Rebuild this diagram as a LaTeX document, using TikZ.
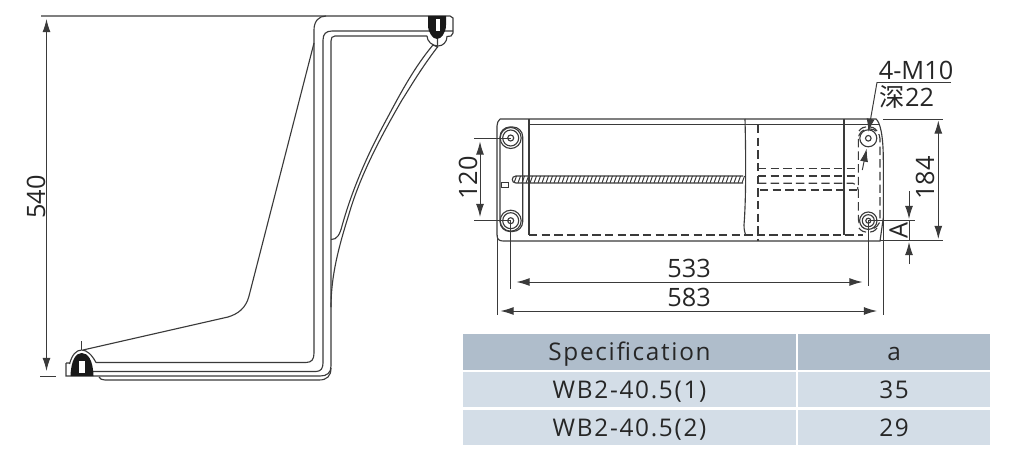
\documentclass[tikz,border=0pt]{standalone}
\usepackage{fontspec}
\setmainfont{Open Sans}
\newfontfamily\cjkfont{Noto Sans CJK SC}
\newfontfamily\tablefont[LetterSpace=7]{Open Sans}
\usetikzlibrary{arrows.meta}
\definecolor{inkline}{HTML}{3A3A3A}
\definecolor{headfill}{HTML}{AFBDCB}
\definecolor{rowfill}{HTML}{D3DDE7}
\tikzset{
  part/.style={draw=inkline,line width=0.8pt},
  hidden/.style={draw=inkline,line width=0.8pt,dash pattern=on 6pt off 3pt},
  dimline/.style={draw=inkline,line width=0.7pt},
  dimarrow/.style={dimline,{Latex[length=0.33cm,width=0.2cm]}-{Latex[length=0.33cm,width=0.2cm]}},
  onearrow/.style={dimline,-{Latex[length=0.33cm,width=0.2cm]}},
  dimtext/.style={font=\fontsize{18}{20}\selectfont,text=black!85,inner sep=0pt},
  headcell/.style={fill=headfill,inner sep=0pt,font=\tablefont\fontsize{17.3}{19}\selectfont,text=black!85,
    text height=15pt,text depth=3.2pt,minimum height=35.5*0.025cm},
  rowcell/.style={headcell,fill=rowfill},
  leftcol/.style={minimum width=333*0.025cm},
  rightcol/.style={minimum width=192*0.025cm}
}
\begin{document}
\begin{tikzpicture}[x=0.025cm,y=-0.025cm]
  \useasboundingbox (0,0) rectangle (1024,459);
  % side view
  \draw[part] (41,16) -- (450,16) -- (453,18) -- (453,33) -- (451,36) -- (447,36.5)
    .. controls (447,42) and (443,46) .. (438,46) .. controls (432,46) and (427,41) .. (427,36);
  \draw[part] (453,31) -- (332,31) .. controls (326,31) and (323,34) .. (323,40) -- (323,363)
    .. controls (323,368) and (321,371.5) .. (316,371.5) -- (93,371.5);
  \draw[part] (427,36) -- (335,36) .. controls (332,36) and (331,38) .. (331,41) -- (331,307);
  \draw[part] (326,16) .. controls (319,16) and (314,21) .. (314,30) -- (314,353)
    .. controls (314,359) and (312,362.5) .. (306,362.5) -- (96,362.5);
  \draw[part] (66,363) -- (70,363) (66,363) -- (66,376) -- (320,376)
    .. controls (327,376) and (331,373) .. (331,366) -- (331,307);
  \draw[part] (99,377) .. controls (100,379) and (102,380) .. (105,380) -- (319,380)
    .. controls (327,380) and (331,376) .. (331,368);
  \draw[part] (314,43) -- (249,296) .. controls (246,308) and (238,314) .. (228,317) -- (83,350);
  \draw[part] (437.5,38) -- (437.5,47) -- (433,45) .. controls (412,70) and (397,100) .. (383,126)
    .. controls (367,156) and (352,190) .. (342,226) .. controls (340,234) and (337,240) .. (331,239.5);
  \draw[part] (437.5,47) .. controls (420,70) and (411,86) .. (402,100)
    .. controls (380,138) and (360,176) .. (349,214) .. controls (339,246) and (331,275) .. (331,307);
  % bolts of the side view
  \fill[black!90] (428,16) -- (446,16) -- (446,25) .. controls (446,33) and (441,39) .. (437,39)
    .. controls (433,39) and (428,33) .. (428,25) -- cycle;
  \fill[white] (435.5,19) rectangle (440,31);
  \fill[black!90] (70.5,376) .. controls (71,360) and (76,353) .. (81.7,353)
    .. controls (88,353) and (93,360) .. (93.5,376) -- cycle;
  \fill[white] (79,361) rectangle (85,373);
  \draw[part] (69.5,364) .. controls (72,355) and (76,350) .. (81.7,350)
    .. controls (87,350) and (92,355) .. (96,362.5);
  \draw[part] (81.7,341) -- (81.7,350);
  % 540
  \coordinate (sidetop) at (46.5,19);
  \coordinate (sidebot) at (46.5,371);
  \draw[dimarrow] (sidetop) -- (sidebot);
  \draw[dimline] (40,376) -- (56,376);
  \node[dimtext,rotate=90] (dimheight) at (36,197) {540};
  % front view, outline
  \draw[part] (500,119) -- (876,119) .. controls (880,122) and (883.3,135) .. (883.3,160) -- (883.3,218)
    -- (880,241) -- (503,241)
    .. controls (499,241) and (497,239) .. (497,235) -- (497,126) .. controls (497,123) and (498,121) .. (500,119);
  \draw[part] (529,124.5) -- (880,124.5);
  \draw[part] (529,119) -- (529,235);
  \draw[part] (745,119) .. controls (746,160) and (746,200) .. (744,225) .. controls (744,230) and (745,234) .. (746,235);
  \draw[part] (844,119) -- (844,235);
  \draw[part,rounded corners=7pt] (500,127) rectangle (522.7,231.5);
  \draw[part] (501.7,182.3) rectangle (508.3,187.7);
  % threaded bar
  \draw[part] (743,176) -- (516,176) .. controls (511,176) and (511,183) .. (516,183) -- (743,183);
  \foreach \xs in {514,518,...,742}
    \draw[inkline,line width=0.7pt] (\xs,183) -- (\xs+2.5,176);
  % hidden lines
  \draw[hidden] (529,235) -- (863,235);
  \draw[hidden] (758,125) -- (758,241);
  \draw[hidden] (758,168.3) -- (858,168.3);
  \draw[hidden] (758,176) -- (855,176);
  \draw[hidden] (758,183.3) -- (853,183.3) .. controls (856,183.3) and (858,186) .. (858,190);
  \draw[hidden] (760,190) -- (858,190);
  \draw[hidden,rounded corners=7pt] (858.3,129) rectangle (880,229);
  \draw[hidden] (859,131) .. controls (863,125) and (873,125) .. (877,131);
  \draw[hidden] (859,228) .. controls (863,234) and (873,234) .. (877,228);
  % bolts of the front view
  \foreach \nm/\xc/\yc in {lefttop/510.7/138,leftbot/510.7/220.7}{
    \coordinate (\nm) at (\xc,\yc);
    \draw[part] (\nm) circle (10.5);
    \draw[part] (\nm) circle (8);
    \draw[part] (\nm) circle (3);
  }
  \coordinate (righttop) at (868.3,138.3);
  \draw[part,fill=white] (righttop) circle (8.5);
  \draw[part] (righttop) circle (2.8);
  \coordinate (rightbot) at (868.3,220.7);
  \draw[part,fill=white] (rightbot) circle (8.7);
  \draw[part] (rightbot) circle (6);
  \draw[part] (rightbot) circle (2.5);
  % 120
  \draw[dimline] (474,138) -- (lefttop);
  \draw[dimline] (474,220.7) -- (leftbot);
  \draw[dimarrow] (480,141.5) -- (480,217);
  \node[dimtext,rotate=90] (dimpitch) at (468,178) {120};
  % 533 and 583
  \draw[dimline] (leftbot) -- (510.7,288.5);
  \draw[dimline] (rightbot) -- (868.3,286);
  \draw[dimline] (497,235) -- (497,314.5);
  \draw[dimline] (883.3,200) -- (883.3,314.5);
  \draw[dimarrow] (516.5,282) -- (862.5,282);
  \draw[dimarrow] (500.5,311) -- (877,311);
  \node[dimtext] (dimbolts) at (689,268.5) {533};
  \node[dimtext] (dimwidth) at (689,297) {583};
  % 184 and A
  \draw[dimline] (883,119) -- (943,119);
  \draw[dimline] (880,240.7) -- (943,240.7);
  \draw[dimarrow] (938.3,120.5) -- (938.3,239);
  \node[dimtext,rotate=90] (dimdepth) at (925,178) {184};
  \draw[dimline] (rightbot) -- (915,220.7);
  \draw[onearrow] (909,191) -- (909,219);
  \draw[dimline] (909,220.7) -- (909,240.7);
  \draw[onearrow] (909,264) -- (909,242);
  \node[dimtext,rotate=90] (dimgap) at (898.5,230.5) {A};
  % 4-M10
  \draw[dimline] (951,82.3) -- (877,82.3);
  \draw[onearrow] (877,82.3) -- (868.3,132);
  \draw[onearrow] (862.3,170) -- (866.7,148.5);
  \node[dimtext] (threadlabel) at (916,70) {4-M10};
  \node[dimtext] (depthlabel) at (907,96.5) {{\cjkfont 深}22};
  % table
  \node[headcell,leftcol] (head1) at (629.5,352) {Specification};
  \node[headcell,rightcol] (head2) at (894,352) {a};
  \node[rowcell,leftcol] (row1a) at (629.5,389.7) {WB2-40.5(1)};
  \node[rowcell,rightcol] (row1b) at (894,389.7) {35};
  \node[rowcell,leftcol] (row2a) at (629.5,427.7) {WB2-40.5(2)};
  \node[rowcell,rightcol] (row2b) at (894,427.7) {29};
\end{tikzpicture}
\end{document}
